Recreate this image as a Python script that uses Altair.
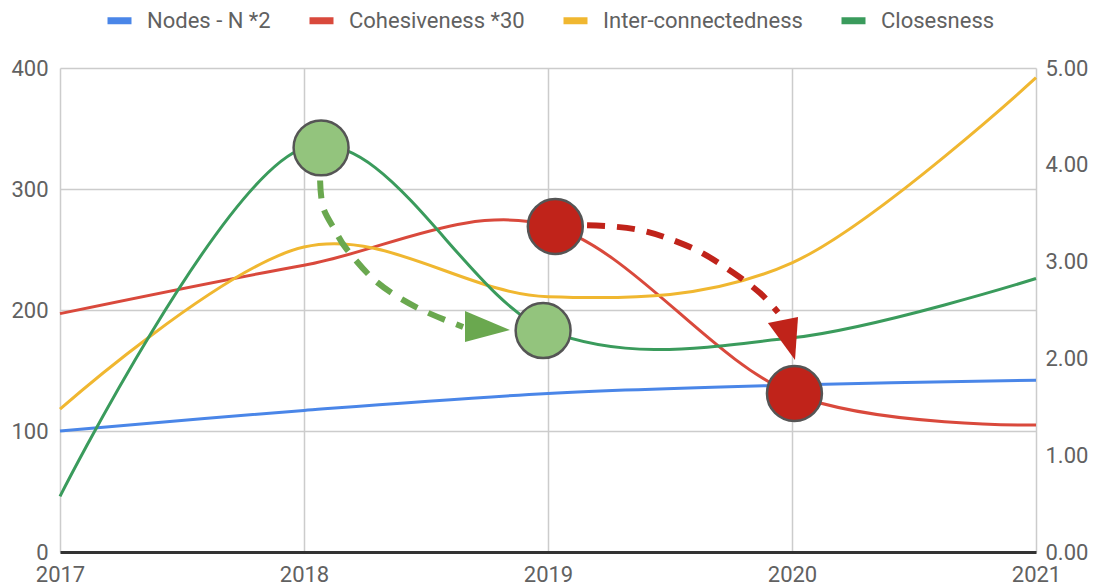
import altair as alt
import pandas as pd

# ---- chart data ----
years = [2017, 2018, 2019, 2020, 2021]
series_names = ["Nodes - N *2", "Cohesiveness *30", "Inter-connectedness", "Closesness"]
nodes = [100, 117, 131, 138, 142]
cohesiveness = [197, 237, 270, 131, 105]
inter_connectedness = [118, 252, 211, 239, 392]
closesness = [46, 334, 183, 177, 226]
series_colors = ["#4a86e8", "#d9493c", "#f0b730", "#3a9b5c"]

right_ticks = [0.0, 1.0, 2.0, 3.0, 4.0, 5.0]
right_max = 5.0
left_max = 400

# annotation circles (year, value)
circle_year = [2018.07, 2018.98, 2019.03, 2020.01]
circle_value = [334, 183, 269, 131]
circle_kind = ["green", "green", "red", "red"]

# dashed arrow paths (year, value)
green_path_year = [2018.066, 2018.078, 2018.127, 2018.176, 2018.299, 2018.463, 2018.652]
green_path_value = [307, 285, 266, 250, 223, 202, 186]
red_path_year = [2019.160, 2019.266, 2019.377, 2019.488, 2019.623, 2019.758, 2019.869, 2019.943]
red_path_value = [270, 269, 266, 259.5, 248, 231, 214, 198]

# arrow heads (year, value)
green_head = (2018.752, 186.4)
red_head = (2019.963, 176.4)

# ---- tables ----
rows = []
for name, vals in zip(series_names, [nodes, cohesiveness, inter_connectedness, closesness]):
    for y, v in zip(years, vals):
        rows.append({"series": name, "year": y, "value": v})
df = pd.DataFrame(rows)

df_circ = pd.DataFrame({"year": circle_year, "value": circle_value, "kind": circle_kind})
df_gp = pd.DataFrame({"year": green_path_year, "value": green_path_value,
                      "i": list(range(len(green_path_year)))})
df_rp = pd.DataFrame({"year": red_path_year, "value": red_path_value,
                      "i": list(range(len(red_path_year)))})
df_gh = pd.DataFrame({"year": [green_head[0]], "value": [green_head[1]]})
df_rh = pd.DataFrame({"year": [red_head[0]], "value": [red_head[1]]})

FONT = "Roboto"
LABEL = "#616161"

xscale = alt.Scale(domain=[2017, 2021], nice=False, zero=False)
yscale = alt.Scale(domain=[0, left_max], nice=False)

xaxis = alt.Axis(values=years, format="d", title=None, grid=True,
                 gridColor="#cccccc", gridWidth=1.5, ticks=False,
                 domain=True, domainColor="#333333", domainWidth=3,
                 labelFlush=False, labelPadding=12, labelFontSize=22,
                 labelFont=FONT, labelColor=LABEL)
X = alt.X("year:Q", scale=xscale, axis=xaxis)

lines = alt.Chart(df).mark_line(interpolate="cardinal", strokeWidth=3).encode(
    x=X,
    y=alt.Y("value:Q", scale=yscale,
            axis=alt.Axis(values=[0, 100, 200, 300, 400], title=None, grid=True,
                          gridColor="#cccccc", gridWidth=1.5, ticks=False,
                          domain=False, labelPadding=12, labelFontSize=22,
                          labelFont=FONT, labelColor=LABEL)),
    color=alt.Color("series:N", sort=series_names,
                    scale=alt.Scale(domain=series_names, range=series_colors),
                    legend=alt.Legend(title=None, orient="none", direction="horizontal",
                                      legendX=44, legendY=-63,
                                      symbolType="stroke", symbolStrokeWidth=7,
                                      symbolSize=576, labelFontSize=22,
                                      labelFont=FONT, labelColor=LABEL,
                                      labelLimit=0, labelOffset=12, columnPadding=24)),
)

right_axis = alt.Chart(df).mark_line(opacity=0).encode(
    x=X,
    y=alt.Y("value:Q", scale=yscale,
            axis=alt.Axis(orient="right", values=[t * left_max / right_max for t in right_ticks],
                          labelExpr=f"format(datum.value/{left_max / right_max},'.2f')",
                          title=None, grid=False, ticks=False, domain=False,
                          labelPadding=9, labelFontSize=22, labelFont=FONT,
                          labelColor=LABEL)),
    detail="series:N",
)

Yn = alt.Y("value:Q", scale=yscale, axis=None)

green_path = alt.Chart(df_gp).mark_line(
    color="#6aa84f", strokeWidth=6, strokeDash=[18, 12], interpolate="cardinal"
).encode(x=X, y=Yn, order="i:Q")

red_path = alt.Chart(df_rp).mark_line(
    color="#c0231a", strokeWidth=6, strokeDash=[18, 12], interpolate="cardinal"
).encode(x=X, y=Yn, order="i:Q")

green_arrow = alt.Chart(df_gh).mark_point(
    shape="M-1,-0.69 L1,0.16 L-1,0.69 Z", size=2025, filled=True,
    fill="#6aa84f", opacity=1, strokeWidth=0
).encode(x=X, y=Yn)

red_arrow = alt.Chart(df_rh).mark_point(
    shape="M-0.7,-0.72 L0.7,-1 L0.56,1 Z", size=1849, filled=True,
    fill="#c0231a", opacity=1, strokeWidth=0
).encode(x=X, y=Yn)

circles = alt.Chart(df_circ).mark_point(
    shape="circle", size=3019, filled=True, opacity=1,
    stroke="#555555", strokeWidth=2.5
).encode(
    x=X, y=Yn,
    fill=alt.Fill("kind:N", scale=alt.Scale(domain=["green", "red"],
                                            range=["#93c47d", "#c0231a"]), legend=None),
)

chart = alt.layer(lines, right_axis, green_path, red_path, green_arrow, red_arrow, circles).resolve_axis(
    y="independent"
).properties(
    width=976, height=484,
    padding={"left": 52, "top": 60, "right": 55, "bottom": 36},
    autosize=alt.AutoSizeParams(type="none"),
).configure_view(stroke=None)

chart.save("out.html", embed_options={"renderer": "svg", "actions": False})
